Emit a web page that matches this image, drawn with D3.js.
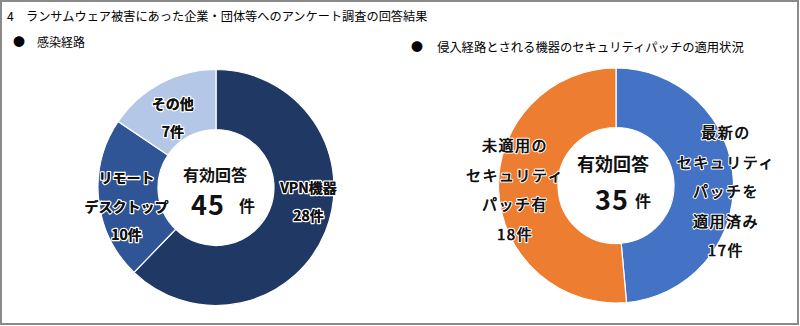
<!DOCTYPE html>
<html><head><meta charset="utf-8">
<script src="https://cdn.jsdelivr.net/npm/d3@7/dist/d3.min.js"></script>
<style>
html,body{margin:0;padding:0;background:#fff;}
svg{display:block;font-family:"Noto Sans CJK JP","Noto Sans",sans-serif;}
</style></head>
<body>
<svg id="chart" width="800" height="326"></svg>
<script>
// ---- data ----
const title = "4\u3000ランサムウェア被害にあった企業・団体等へのアンケート調査の回答結果";
const leftTitle = "感染経路";
const rightTitle = "侵入経路とされる機器のセキュリティパッチの適用状況";
const infectCategories = ["VPN機器", "リモートデスクトップ", "その他"];
const infectValues = [28, 10, 7];
const infectLabelLines = [["VPN機器", "28件"], ["リモート", "デスクトップ", "10件"], ["その他", "7件"]];
const patchCategories = ["最新のセキュリティパッチを適用済み", "未適用のセキュリティパッチ有"];
const patchValues = [17, 18];
const patchLabelLines = [["最新の", "セキュリティ", "パッチを", "適用済み", "17件"], ["未適用の", "セキュリティ", "パッチ有", "18件"]];
const centerCaption = "有効回答";
const unit = "件";

// ---- layout / style ----
const svg = d3.select("#chart");
svg.append("rect").attr("x", 1).attr("y", 1).attr("width", 797).attr("height", 323)
  .attr("fill", "#fff").attr("stroke", "#8a8a8a").attr("stroke-width", 2);

svg.append("text").attr("x", 7).attr("y", 21).attr("font-size", 12.2).attr("fill", "#000").text(title);
svg.append("text").attr("x", 13).attr("y", 47).attr("font-size", 12).text("●");
svg.append("text").attr("x", 37).attr("y", 47).attr("font-size", 12).text(leftTitle);
svg.append("text").attr("x", 411).attr("y", 52).attr("font-size", 12).text("●");
svg.append("text").attr("x", 437).attr("y", 52).attr("font-size", 12.3).text(rightTitle);

function donut(cfg) {
  const g = svg.append("g").attr("transform", `translate(${cfg.cx},${cfg.cy})`);
  const pie = d3.pie().sort(null).value(d => d)(cfg.values);
  const arc = d3.arc().innerRadius(cfg.ri).outerRadius(cfg.ro);
  const color = d3.scaleOrdinal().domain(d3.range(cfg.values.length)).range(cfg.colors);
  g.selectAll("path.slice").data(pie).join("path").attr("class", "slice")
    .attr("d", arc).attr("fill", (d, i) => color(i))
    .attr("stroke", "#fff").attr("stroke-width", 1.2);
  const labelArc = d3.arc().innerRadius(cfg.rl).outerRadius(cfg.rl);
  pie.forEach((d, i) => {
    const c = labelArc.centroid(d);
    const nx = cfg.nudge[i][0], ny = cfg.nudge[i][1];
    const lines = cfg.lines[i];
    [["#fff", 2.6], ["#111", cfg.inkStroke]].forEach(([sc, sw]) => {
      const t = g.append("text").attr("text-anchor", "middle")
        .attr("font-size", cfg.labelSize).attr("font-weight", cfg.labelWeight)
        .attr("letter-spacing", cfg.labelSpacing)
        .attr("fill", "#111").attr("stroke", sc).attr("stroke-width", sw)
        .attr("stroke-linejoin", "round").attr("paint-order", "stroke");
      lines.forEach((ln, j) => {
        t.append("tspan").attr("x", c[0] + nx)
          .attr("y", c[1] + ny + (j - (lines.length - 1) / 2) * cfg.lineH)
          .attr("dominant-baseline", "central").text(ln);
      });
    });
  });
  const total = d3.sum(cfg.values);
  g.append("text").attr("text-anchor", "middle").attr("x", cfg.cap[0]).attr("y", cfg.cap[1])
    .attr("dominant-baseline", "central").attr("font-size", cfg.capSize).attr("font-weight", 700)
    .attr("fill", "#111").text(centerCaption);
  g.append("text").attr("text-anchor", "middle").attr("x", cfg.num[0]).attr("y", cfg.num[1])
    .attr("dominant-baseline", "central").attr("font-size", cfg.numSize).attr("font-weight", 700)
    .attr("letter-spacing", 1).attr("fill", "#111").text(total);
  g.append("text").attr("text-anchor", "middle").attr("x", cfg.unitPos[0]).attr("y", cfg.unitPos[1])
    .attr("dominant-baseline", "central").attr("font-size", 16).attr("font-weight", 700)
    .attr("fill", "#111").text(unit);
}

donut({
  cx: 216, cy: 187.5, ri: 58, ro: 118, rl: 90,
  values: infectValues, lines: infectLabelLines,
  colors: ["#203864", "#2f5597", "#b4c7e7"],
  nudge: [[9, -20], [0, 9], [-1, 9]],
  labelSize: 14, labelWeight: 700, labelSpacing: 0, lineH: 28.5, inkStroke: 0,
  cap: [-1, -13.5], capSize: 16, num: [-8, 15.5], numSize: 27, unitPos: [31, 17.5]
});

donut({
  cx: 616, cy: 185.5, ri: 58, ro: 117.5, rl: 105,
  values: patchValues, lines: patchLabelLines,
  colors: ["#4472c4", "#ed7d31"],
  nudge: [[5, 10], [4, -1]],
  labelSize: 15, labelWeight: 400, labelSpacing: 1.5, lineH: 29.5, inkStroke: 0.45,
  cap: [-3, -22.5], capSize: 18, num: [-4, 12.5], numSize: 27, unitPos: [27, 14.5]
});
</script>
</body></html>
